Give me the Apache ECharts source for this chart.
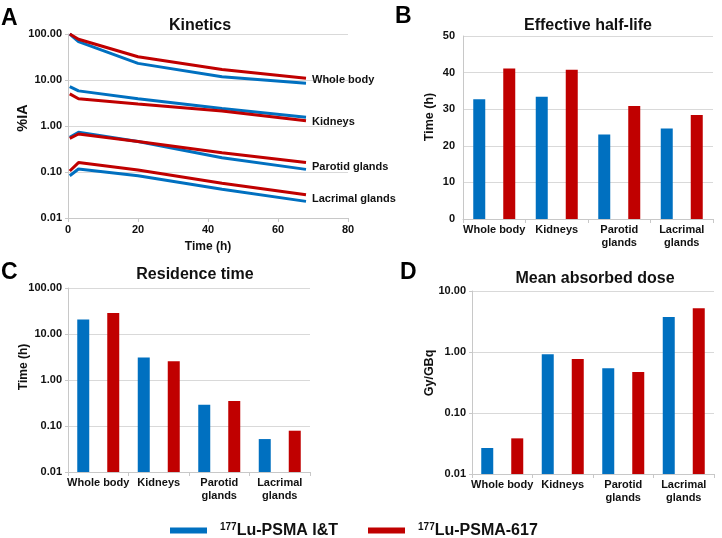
<!DOCTYPE html>
<html><head><meta charset="utf-8">
<script src="https://cdn.jsdelivr.net/npm/echarts@6/dist/echarts.min.js"></script>
<style>html,body{margin:0;padding:0;background:#fff}#c{width:722px;height:538px}</style>
</head><body><div id="c"></div>
<script>
const seriesNames = ['177Lu-PSMA I&T', '177Lu-PSMA-617'];
const colors = ['#0070C0', '#C00000'];
const organs = ['Whole body', 'Kidneys', 'Parotid glands', 'Lacrimal glands'];
const organLabels = ['Whole body', 'Kidneys', 'Parotid\nglands', 'Lacrimal\nglands'];

// Panel A: kinetics (%IA) at time points (h)
const timePoints = [0.5, 3, 20, 44, 68];
const kinIT = {
  'Whole body': [100, 68, 23, 11.8, 8.5],
  'Kidneys': [7.2, 5.8, 3.9, 2.4, 1.55],
  'Parotid glands': [0.57, 0.73, 0.46, 0.205, 0.114],
  'Lacrimal glands': [0.083, 0.116, 0.083, 0.042, 0.023]
};
const kin617 = {
  'Whole body': [100, 77, 32, 17, 10.9],
  'Kidneys': [5.0, 3.9, 3.0, 2.12, 1.3],
  'Parotid glands': [0.54, 0.67, 0.46, 0.263, 0.16],
  'Lacrimal glands': [0.105, 0.16, 0.11, 0.057, 0.032]
};

// Panel B: effective half-life (h)
const halfIT = [32.7, 33.4, 23.1, 24.7];
const half617 = [41.1, 40.8, 30.9, 28.4];
// Panel C: residence time (h)
const resIT = [20.6, 3.07, 0.29, 0.052];
const res617 = [28.6, 2.55, 0.35, 0.079];
// Panel D: mean absorbed dose (Gy/GBq)
const doseIT = [0.0267, 0.92, 0.543, 3.75];
const dose617 = [0.0384, 0.77, 0.472, 5.2];

const FONT = 'Liberation Sans, Arial, sans-serif';
const gridCol = '#d9d9d9';
const lab = {fontFamily: FONT, fontWeight: 'bold', fontSize: 11, color: '#111'};
const nameStyle = (s, shift) => ({fontFamily: FONT, fontWeight: 'bold', fontSize: s, color: '#111', padding: [0, 0, 0, shift || 0]});
const axisLine = {show: true, lineStyle: {color: '#c8c8c8'}};
const fmt2 = v => Number(v).toFixed(2);
const labelDy = {'Whole body': 2, 'Kidneys': 1, 'Parotid glands': 4, 'Lacrimal glands': 4};

const series = [];
organs.forEach(o => {
  series.push({type: 'line', name: seriesNames[0], xAxisIndex: 0, yAxisIndex: 0, symbol: 'none',
    lineStyle: {width: 3, color: colors[0]}, itemStyle: {color: colors[0]},
    data: timePoints.map((t, i) => [t, kinIT[o][i]])});
  series.push({type: 'line', name: seriesNames[1], xAxisIndex: 0, yAxisIndex: 0, symbol: 'none',
    lineStyle: {width: 3, color: colors[1]}, itemStyle: {color: colors[1]},
    data: timePoints.map((t, i) => [t, kin617[o][i]]),
    endLabel: {show: true, formatter: () => o, distance: 6, offset: [0, labelDy[o]], ...lab}});
});
const barPair = (idx, a, b) => {
  [a, b].forEach((d, k) => series.push({type: 'bar', name: seriesNames[k], xAxisIndex: idx, yAxisIndex: idx,
    barWidth: 12, barGap: '150%', itemStyle: {color: colors[k]}, data: d}));
};
barPair(1, halfIT, half617);
barPair(2, resIT, res617);
barPair(3, doseIT, dose617);

const catAxis = (idx) => ({type: 'category', gridIndex: idx, data: organLabels,
  axisLine, axisTick: {show: true, lineStyle: {color: '#c8c8c8'}, length: 4},
  axisLabel: {...lab, margin: 4, lineHeight: 13, interval: 0}});
const logAxis = (idx, min, max, name, gap, size, shift) => ({type: 'log', gridIndex: idx, logBase: 10, min, max, startValue: min,
  axisLine, axisTick: {show: true, length: 3, lineStyle: {color: '#c8c8c8'}},
  splitLine: {show: true, lineStyle: {color: gridCol}},
  axisLabel: {...lab, formatter: fmt2, margin: 6},
  name, nameLocation: 'middle', nameGap: gap, nameMoveOverlap: false, nameTextStyle: nameStyle(size, shift)});

const letter = {fontFamily: FONT, fontSize: 23, fontWeight: 'bold', color: '#000'};
const ttl = {fontFamily: FONT, fontSize: 16, fontWeight: 'bold', color: '#111'};
const option = {
  animation: false,
  textStyle: {fontFamily: FONT},
  title: [
    {text: 'A', left: 1, top: 7, padding: 0, textStyle: letter},
    {text: 'B', left: 395, top: 5, padding: 0, textStyle: letter},
    {text: 'C', left: 1, top: 261, padding: 0, textStyle: letter},
    {text: 'D', left: 400, top: 261, padding: 0, textStyle: letter},
    {text: 'Kinetics', left: 200, textAlign: 'center', top: 18, padding: 0, textStyle: ttl},
    {text: 'Effective half-life', left: 588, textAlign: 'center', top: 18, padding: 0, textStyle: ttl},
    {text: 'Residence time', left: 195, textAlign: 'center', top: 267, padding: 0, textStyle: ttl},
    {text: 'Mean absorbed dose', left: 595, textAlign: 'center', top: 271, padding: 0, textStyle: ttl}
  ],
  legend: {data: seriesNames, left: 165, top: 517, icon: 'rect', itemWidth: 37, itemHeight: 6, itemGap: 30,
    formatter: n => '{s|' + n.slice(0, 3) + '}{t|' + n.slice(3) + '}',
    textStyle: {rich: {
      s: {fontFamily: FONT, fontWeight: 'bold', fontSize: 10, color: '#111', padding: [0, 0, 7, 8]},
      t: {fontFamily: FONT, fontWeight: 'bold', fontSize: 16, color: '#111'}}}},
  grid: [
    {left: 68, top: 34, width: 280, height: 184},
    {left: 463, top: 36, width: 250, height: 183},
    {left: 68, top: 288, width: 242, height: 184},
    {left: 472, top: 291, width: 242, height: 183}
  ],
  xAxis: [
    {type: 'value', gridIndex: 0, min: 0, max: 80, interval: 20, axisLine,
     axisTick: {show: true, length: 4, lineStyle: {color: '#c8c8c8'}}, splitLine: {show: false},
     axisLabel: {...lab, margin: 6}, name: 'Time (h)', nameLocation: 'middle', nameGap: 23, nameTextStyle: nameStyle(12)},
    catAxis(1), catAxis(2), catAxis(3)
  ],
  yAxis: [
    logAxis(0, 0.01, 100, '%IA', 38, 14.5, 16),
    {type: 'value', gridIndex: 1, min: 0, max: 50, interval: 10, axisLine,
     axisTick: {show: false}, splitLine: {show: true, lineStyle: {color: gridCol}},
     axisLabel: {...lab, margin: 8}, name: 'Time (h)', nameLocation: 'middle', nameGap: 27, nameMoveOverlap: false,
     nameTextStyle: nameStyle(12.5, 21)},
    logAxis(2, 0.01, 100, 'Time (h)', 38, 12, 26),
    logAxis(3, 0.01, 10, 'Gy/GBq', 36, 12.5, 19)
  ],
  series
};
const chart = echarts.init(document.getElementById('c'), null, {renderer: 'canvas'});
chart.setOption(option);
</script></body></html>
